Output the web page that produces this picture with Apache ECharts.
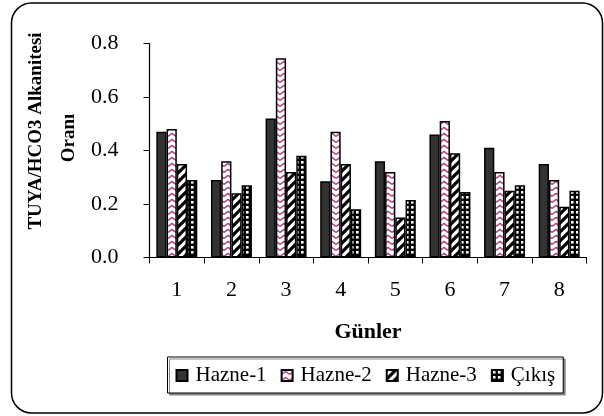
<!DOCTYPE html>
<html>
<head>
<meta charset="utf-8">
<script src="https://cdn.jsdelivr.net/npm/echarts@6/dist/echarts.min.js"></script>
<style>
  html, body { margin: 0; padding: 0; background: #fff; }
  #chart { width: 604px; height: 416px; }
</style>
</head>
<body>
<div id="chart"></div>
<script>
// Days of measurement and the TUYA/HCO3 alkalinity ratio per reservoir
const days = ['1', '2', '3', '4', '5', '6', '7', '8'];
const hazne1 = [0.47, 0.29, 0.52, 0.285, 0.36, 0.46, 0.41, 0.35];
const hazne2 = [0.48, 0.36, 0.745, 0.47, 0.32, 0.51, 0.32, 0.29];
const hazne3 = [0.35, 0.24, 0.32, 0.35, 0.15, 0.39, 0.25, 0.19];
const cikis  = [0.29, 0.27, 0.38, 0.18, 0.215, 0.245, 0.27, 0.25];
const seriesNames = ['Hazne-1', 'Hazne-2', 'Hazne-3', 'Çıkış'];
const yTicks = [0, 0.2, 0.4, 0.6, 0.8];

// Fill patterns for the bars
function tile(w, h, draw) {
  const c = document.createElement('canvas');
  c.width = w; c.height = h;
  const g = c.getContext('2d');
  draw(g, w, h);
  return { image: c, repeat: 'repeat' };
}
const waveFill = tile(8, 6, (g, w, h) => {
  g.fillStyle = '#fff'; g.fillRect(0, 0, w, h);
  g.strokeStyle = '#b04080'; g.lineWidth = 1.5;
  g.beginPath();
  g.moveTo(0, 4.5); g.lineTo(4, 1.5); g.lineTo(8, 4.5);
  g.stroke();
});
const stripeFill = tile(9, 9, (g, w, h) => {
  g.fillStyle = '#fff'; g.fillRect(0, 0, w, h);
  g.strokeStyle = '#000'; g.lineWidth = 3.2;
  g.beginPath();
  g.moveTo(-2, 11); g.lineTo(11, -2);
  g.moveTo(-7, 7); g.lineTo(7, -7);
  g.moveTo(2, 16); g.lineTo(16, 2);
  g.stroke();
});
const checkFill = tile(5, 5, (g, w, h) => {
  g.fillStyle = '#000'; g.fillRect(0, 0, w, h);
  g.fillStyle = '#fff'; g.fillRect(1, 1, 2.6, 2.6);
});

const fills = ['#333333', waveFill, stripeFill, checkFill];
const values = [hazne1, hazne2, hazne3, cikis];

const chart = echarts.init(document.getElementById('chart'), null, { renderer: 'canvas' });
const serif = '"Liberation Serif", "Times New Roman", serif';

chart.setOption({
  animation: false,
  backgroundColor: '#fff',
  grid: { left: 149.5, right: 17.5, top: 43.5, bottom: 158.5, containLabel: false },
  legend: {
    data: seriesNames,
    left: 167.5, top: 357,
    orient: 'horizontal',
    icon: 'rect',
    itemWidth: 11, itemHeight: 11,
    itemGap: 14,
    padding: [8, 8, 7, 8],
    backgroundColor: '#fff',
    borderColor: '#000', borderWidth: 1,
    shadowColor: '#888', shadowOffsetX: 2, shadowOffsetY: 2, shadowBlur: 0,
    textStyle: { fontFamily: serif, fontSize: 21, color: '#000', padding: [0, 0, 0, 3] }
  },
  xAxis: {
    type: 'category',
    data: days,
    axisLine: { lineStyle: { color: '#000', width: 1.2 } },
    axisTick: { show: true, length: 6, inside: false, lineStyle: { color: '#000' } },
    axisLabel: { fontFamily: serif, fontSize: 22, color: '#000', margin: 22 },
    name: 'Günler',
    nameLocation: 'middle',
    nameGap: 64,
    nameTextStyle: { fontFamily: serif, fontSize: 22, fontWeight: 'bold', color: '#000' }
  },
  yAxis: {
    type: 'value',
    min: yTicks[0], max: yTicks[yTicks.length - 1], interval: 0.2,
    axisLine: { show: true, lineStyle: { color: '#000', width: 1.2 } },
    axisTick: { show: true, length: 6, lineStyle: { color: '#000' } },
    splitLine: { show: false },
    axisLabel: {
      fontFamily: serif, fontSize: 22, color: '#000', margin: 31,
      formatter: v => v.toFixed(1)
    }
  },
  graphic: [
    {
      type: 'rect',
      shape: { x: 11.5, y: 3, width: 591, height: 410, r: 20 },
      style: { fill: null, stroke: '#000', lineWidth: 1.5 },
      silent: true, z: 100
    },
    {
      type: 'text',
      x: 36, y: 131, rotation: Math.PI / 2,
      style: {
        text: 'TUYA/HCO3 Alkanitesi', fontFamily: serif, fontSize: 19, fontWeight: 'bold',
        fill: '#000', align: 'center', verticalAlign: 'middle'
      }
    },
    {
      type: 'text',
      x: 69, y: 138, rotation: Math.PI / 2,
      style: {
        text: 'Oranı', fontFamily: serif, fontSize: 19, fontWeight: 'bold',
        fill: '#000', align: 'center', verticalAlign: 'middle'
      }
    }
  ],
  series: seriesNames.map((name, i) => ({
    name: name,
    type: 'bar',
    data: values[i],
    barGap: '0%',
    barCategoryGap: '25%',
    itemStyle: { color: fills[i], borderColor: '#000', borderWidth: 1.5 },
    emphasis: { disabled: true }
  }))
});
</script>
</body>
</html>
